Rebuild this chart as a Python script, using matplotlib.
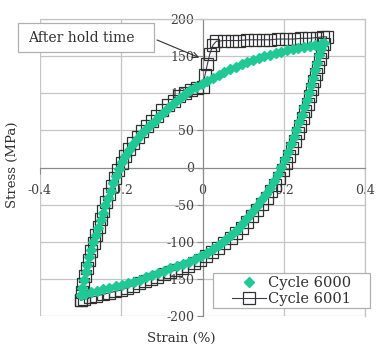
import matplotlib
matplotlib.use("Agg")
import matplotlib.pyplot as plt
from matplotlib.patches import Rectangle
from matplotlib.transforms import IdentityTransform

# Cycle 6000 (loading then unloading branch)
strain_6000 = [
    -0.300, -0.296, -0.292, -0.288, -0.284, -0.279, -0.274, -0.269, -0.263, -0.257,
    -0.251, -0.245, -0.239, -0.233, -0.226, -0.220, -0.213, -0.206, -0.198, -0.190,
    -0.181, -0.172, -0.162, -0.152, -0.141, -0.130, -0.118, -0.106, -0.094, -0.082,
    -0.069, -0.056, -0.043, -0.030, -0.016, -0.002, 0.012, 0.026, 0.040, 0.054,
    0.068, 0.082, 0.096, 0.110, 0.124, 0.138, 0.152, 0.166, 0.180, 0.194,
    0.208, 0.222, 0.236, 0.250, 0.264, 0.278, 0.292, 0.300,
    0.292, 0.286, 0.282, 0.277, 0.272, 0.267, 0.262, 0.256, 0.250, 0.244,
    0.238, 0.231, 0.224, 0.217, 0.210, 0.202, 0.194, 0.185, 0.176, 0.166,
    0.156, 0.145, 0.134, 0.122, 0.110, 0.097, 0.084, 0.070, 0.056, 0.041,
    0.026, 0.011, -0.004, -0.019, -0.034, -0.049, -0.064, -0.079, -0.094, -0.109,
    -0.124, -0.139, -0.154, -0.169, -0.184, -0.199, -0.214, -0.229, -0.244, -0.259,
    -0.274, -0.289, -0.300,
]
stress_6000 = [
    -172, -162, -151, -141, -131, -121, -111, -101, -91, -81,
    -71, -61, -51, -41, -31, -21, -11, -2, 7, 15,
    23, 31, 38, 45, 51, 57, 63, 69, 75, 81,
    87, 93, 99, 104, 108, 112, 116, 120, 124, 128,
    132, 136, 139, 142, 145, 148, 150, 152, 154, 156,
    158, 159, 161, 162, 164, 165, 167, 168,
    160, 151, 141, 131, 121, 111, 101, 91, 81, 71,
    61, 51, 41, 31, 21, 11, 1, -9, -18, -27,
    -36, -44, -52, -60, -68, -76, -84, -91, -98, -104,
    -110, -115, -119, -123, -127, -130, -133, -136, -139, -142,
    -145, -148, -151, -154, -156, -158, -160, -162, -164, -166,
    -168, -170, -172,
]

# Cycle 6001 (loading with hold, then unloading branch)
strain_6001 = [
    -0.300, -0.297, -0.293, -0.289, -0.284, -0.279, -0.274, -0.268, -0.262, -0.256,
    -0.250, -0.244, -0.237, -0.230, -0.223, -0.215, -0.207, -0.199, -0.190, -0.181,
    -0.171, -0.160, -0.149, -0.137, -0.125, -0.112, -0.099, -0.085, -0.071, -0.057,
    -0.043, -0.028, -0.014, 0.000, 0.006, 0.012, 0.018, 0.026, 0.034, 0.053,
    0.072, 0.091, 0.110, 0.129, 0.148, 0.167, 0.186, 0.205, 0.224, 0.243,
    0.262, 0.281, 0.296, 0.306,
    0.300, 0.295, 0.290, 0.285, 0.280, 0.275, 0.270, 0.265, 0.259, 0.253,
    0.247, 0.241, 0.234, 0.227, 0.220, 0.213, 0.205, 0.197, 0.188, 0.179,
    0.169, 0.158, 0.147, 0.135, 0.123, 0.110, 0.097, 0.083, 0.069, 0.054,
    0.039, 0.024, 0.009, -0.006, -0.021, -0.036, -0.051, -0.066, -0.081, -0.096,
    -0.111, -0.126, -0.141, -0.156, -0.171, -0.186, -0.201, -0.216, -0.231, -0.246,
    -0.261, -0.276, -0.291, -0.300,
]
stress_6001 = [
    -179, -168, -157, -146, -135, -124, -113, -102, -91, -80,
    -69, -58, -47, -36, -25, -14, -4, 6, 16, 25,
    33, 41, 49, 56, 63, 70, 77, 84, 90, 96,
    100, 104, 107, 109, 124, 139, 153, 165, 170, 171,
    171, 171, 172, 172, 172, 172, 173, 173, 173, 174,
    174, 175, 176, 176,
    166, 156, 146, 136, 126, 116, 106, 96, 86, 76,
    66, 56, 46, 36, 26, 16, 6, -4, -14, -23,
    -32, -41, -49, -57, -65, -73, -81, -88, -95, -102,
    -108, -114, -119, -124, -128, -132, -135, -138, -141, -144,
    -147, -150, -153, -156, -159, -162, -165, -167, -169, -171,
    -173, -175, -177, -179,
]

x_ticks = [-0.4, -0.2, 0, 0.2, 0.4]
x_tick_labels = ["-0.4", "-0.2", "0", "0.2", "0.4"]
y_ticks = [-200, -150, -100, -50, 0, 50, 100, 150, 200]
y_tick_labels = ["-200", "-150", "-100", "-50", "0", "50", "100", "150", "200"]

FONT = "DejaVu Serif"
plt.rcParams["font.family"] = [FONT, "DejaVu Sans"]

W, H = 377, 346
fig = plt.figure(figsize=(W / 100, H / 100), dpi=100)
ax = fig.add_axes([40 / W, (H - 316) / H, 325 / W, 297 / H])

ax.set_xlim(-0.4, 0.4)
ax.set_ylim(-200, 200)
ax.set_xticks(x_ticks)
ax.set_xticklabels(x_tick_labels)
ax.set_yticks(y_ticks)
ax.set_yticklabels(y_tick_labels)
ax.grid(True, color="#c4c4c4", linewidth=0.9)
ax.set_axisbelow(True)

for s in ["top", "right"]:
    ax.spines[s].set_color("#c4c4c4")
    ax.spines[s].set_linewidth(0.9)
ax.spines["left"].set_position(("data", 0))
ax.spines["bottom"].set_position(("data", 0))
ax.spines["left"].set_color("#8a8a8a")
ax.spines["bottom"].set_color("#8a8a8a")
ax.tick_params(axis="both", colors="#8a8a8a", labelcolor="#404040",
               labelsize=9, length=4, direction="out", width=0.8)
ax.tick_params(axis="y", pad=2)
ax.tick_params(axis="x", pad=8)

ax.plot(strain_6001, stress_6001, color="#3a3a55", linewidth=0.8,
        marker="s", markersize=8.5, markerfacecolor="none",
        markeredgecolor="#303030", markeredgewidth=0.9, label="Cycle 6001", zorder=3)
ax.plot(strain_6000, stress_6000, linestyle="none", marker="D", markersize=5.3,
        color="#20c896", markeredgecolor="#20c896", label="Cycle 6000", zorder=4)

# legend frame drawn separately to match the wide padding
fig.patches.append(Rectangle((213, H - 308), 157, 35, transform=IdentityTransform(),
                             facecolor="white", edgecolor="#b0b0b0",
                             linewidth=0.9, zorder=5))
handles, labels = ax.get_legend_handles_labels()
leg = fig.legend(handles[::-1], labels[::-1], loc="center left",
                 bbox_to_anchor=(232 / W, 1 - 291 / H),
                 fontsize=10.5, frameon=False,
                 handlelength=2.3, borderpad=0.0, borderaxespad=0.0,
                 labelspacing=0.15, handletextpad=0.2)
leg.set_zorder(6)
for t in leg.get_texts():
    t.set_color("#303030")

# annotation box, text and arrow
fig.patches.append(Rectangle((18, H - 52), 136, 29, transform=IdentityTransform(),
                             facecolor="white", edgecolor="#b0b0b0",
                             linewidth=0.9, zorder=5))
fig.text(81 / W, 1 - 37.5 / H, "After hold time", ha="center", va="center",
         fontsize=10, color="#303030", zorder=6)
ax.annotate("", xy=(-0.008, 148), xycoords="data",
            xytext=(157, H - 40), textcoords="figure pixels",
            arrowprops=dict(arrowstyle="->", color="#303030", linewidth=0.8,
                            shrinkA=0, shrinkB=0),
            zorder=6)

fig.text(12 / W, 1 - 165 / H, "Stress (MPa)", rotation=90, ha="center",
         va="center", fontsize=9.5, color="#303030")
fig.text(181 / W, 1 - 338 / H, "Strain (%)", ha="center", va="center",
         fontsize=9.5, color="#303030")

fig.savefig("out.png", dpi=100)
